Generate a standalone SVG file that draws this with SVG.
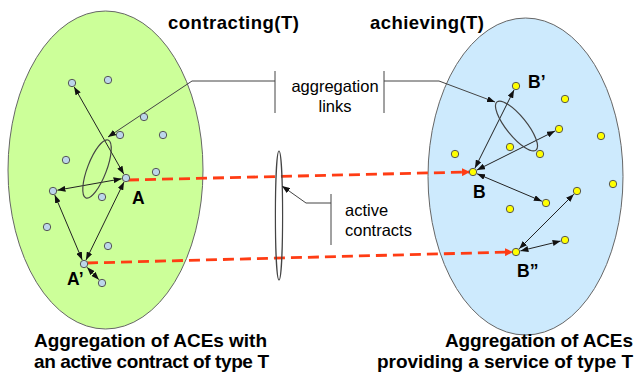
<svg xmlns="http://www.w3.org/2000/svg" width="636" height="381" viewBox="0 0 636 381">
  <style>
    .title { font-family: "Liberation Sans", Arial, sans-serif; font-weight: bold; font-size: 18.5px; fill: #000; }
    .caption { font-family: "Liberation Sans", Arial, sans-serif; font-weight: bold; font-size: 19px; fill: #000; }
    .label { font-family: "Liberation Sans", Arial, sans-serif; font-size: 16.5px; fill: #000; }
    .name { font-family: "Liberation Sans", Arial, sans-serif; font-weight: bold; font-size: 17.5px; fill: #000; }
    .set { stroke: #666; stroke-width: 1; }
    .ace-c { fill: #bcd6ea; stroke: #555; stroke-width: 1; }
    .ace-s { fill: #ffff00; stroke: #555; stroke-width: 1; }
    .link { fill: none; stroke: #222; stroke-width: 1; marker-start: url(#head); marker-end: url(#head); }
    .pointer { fill: none; stroke: #444; stroke-width: 1; marker-end: url(#head); }
    .bracket { fill: none; stroke: #444; stroke-width: 1; }
    .group { fill: none; stroke: #444; stroke-width: 1.2; }
    .contract { fill: none; stroke: #ff3c14; stroke-width: 2.8; stroke-dasharray: 11 6; marker-end: url(#redhead); }
  </style>
  <defs>
    <marker id="head" viewBox="0 0 8 6" refX="8" refY="3" markerWidth="8" markerHeight="6" markerUnits="userSpaceOnUse" orient="auto-start-reverse">
      <path d="M0,0 L8,3 L0,6 z" fill="#111"/>
    </marker>
    <marker id="redhead" viewBox="0 0 8 8" refX="7" refY="4" markerWidth="8" markerHeight="8" markerUnits="userSpaceOnUse" orient="auto">
      <path d="M0,0 L8,4 L0,8 z" fill="#ff3c14"/>
    </marker>
  </defs>

  <rect width="636" height="381" fill="#fff"/>

  <!-- the two populations -->
  <g id="contracting-set">
    <ellipse class="set" cx="105.5" cy="170" rx="97.5" ry="159" fill="#ccff99"/>
    <text class="title" x="168" y="29" textLength="131">contracting(T)</text>
    <text class="caption" x="34" y="347" textLength="233">Aggregation of ACEs with</text>
    <text class="caption" x="34" y="368" textLength="235">an active contract of type T</text>
  </g>
  <g id="achieving-set">
    <ellipse class="set" cx="525.5" cy="176.5" rx="97.5" ry="158.5" fill="#cdeafd"/>
    <text class="title" x="370" y="29" textLength="114">achieving(T)</text>
    <text class="caption" x="445" y="347" textLength="188">Aggregation of ACEs</text>
    <text class="caption" x="377" y="368" textLength="256">providing a service of type T</text>
  </g>

  <!-- connectors -->
  <g id="connectors">
    <!-- aggregation links inside contracting(T) -->
    <line class="link" x1="74.2" y1="86.9" x2="123.8" y2="174.1"/>
    <line class="link" x1="57.4" y1="190.2" x2="121.6" y2="178.8"/>
    <line class="link" x1="54.8" y1="195.1" x2="82.2" y2="259.9"/>
    <line class="link" x1="124" y1="182" x2="86" y2="260"/>
    <line class="link" x1="87.1" y1="267.3" x2="98.9" y2="279.7"/>
    <!-- aggregation links inside achieving(T) -->
    <line class="link" x1="475" y1="168" x2="514" y2="90"/>
    <line class="link" x1="477" y1="170" x2="555" y2="131"/>
    <line class="link" x1="477.1" y1="173.8" x2="541.9" y2="201.2"/>
    <line class="link" x1="519.2" y1="248.8" x2="573.8" y2="194.2"/>
    <line class="link" x1="520.4" y1="250.9" x2="560.6" y2="241.1"/>
    <!-- active contracts -->
    <line class="contract" x1="128" y1="180" x2="469" y2="172"/>
    <line class="contract" x1="87" y1="263" x2="512" y2="252"/>
  </g>

  <!-- link groupings -->
  <g id="link-group-left">
    <ellipse class="group" cx="97" cy="169" rx="31" ry="9.5" transform="rotate(-69 97 169)"/>
  </g>
  <g id="link-group-right">
    <ellipse class="group" cx="516.5" cy="126" rx="31" ry="10" transform="rotate(51 516.5 126)"/>
  </g>
  <g id="contract-group">
    <ellipse class="group" cx="279" cy="215.5" rx="3.6" ry="64.5"/>
  </g>

  <!-- callouts -->
  <g id="aggregation-links-label">
    <polyline class="pointer" points="275,81 192,81 108,137"/>
    <polyline class="pointer" points="384,81 439,81 495,102"/>
    <line class="bracket" x1="275" y1="71" x2="275" y2="113"/>
    <line class="bracket" x1="384" y1="71" x2="384" y2="113"/>
    <text class="label" x="335" y="92" text-anchor="middle">aggregation</text>
    <text class="label" x="335" y="112" text-anchor="middle">links</text>
  </g>
  <g id="active-contracts-label">
    <polyline class="pointer" points="331,203 306,203 282,186"/>
    <line class="bracket" x1="331" y1="194" x2="331" y2="245"/>
    <text class="label" x="345" y="216">active</text>
    <text class="label" x="345" y="236">contracts</text>
  </g>

  <!-- ACEs holding a contract -->
  <g id="aces-contracting">
    <circle class="ace-c" cx="108" cy="80" r="3.7"/>
    <circle class="ace-c" cx="144" cy="117" r="3.7"/>
    <circle class="ace-c" cx="72" cy="83" r="3.7"/>
    <circle class="ace-c" cx="120" cy="135" r="3.7"/>
    <circle class="ace-c" cx="163" cy="135" r="3.7"/>
    <circle class="ace-c" cx="66" cy="160" r="3.7"/>
    <circle class="ace-c" cx="156" cy="172" r="3.7"/>
    <circle class="ace-c" cx="53" cy="191" r="3.7"/>
    <circle class="ace-c" cx="102" cy="197" r="3.7"/>
    <circle class="ace-c" cx="47" cy="227" r="3.7"/>
    <circle class="ace-c" cx="108" cy="246" r="3.7"/>
    <circle class="ace-c" cx="102" cy="283" r="3.7"/>
  </g>
  <g id="node-A">
    <circle class="ace-c" cx="126" cy="178" r="3.7"/>
    <text class="name" x="132" y="204">A</text>
  </g>
  <g id="node-A2">
    <circle class="ace-c" cx="84" cy="264" r="3.7"/>
    <text class="name" x="67" y="285">A’</text>
  </g>

  <!-- ACEs providing the service -->
  <g id="aces-achieving">
    <circle class="ace-s" cx="565" cy="99" r="3.7"/>
    <circle class="ace-s" cx="559" cy="129" r="3.7"/>
    <circle class="ace-s" cx="601" cy="136" r="3.7"/>
    <circle class="ace-s" cx="455" cy="154" r="3.7"/>
    <circle class="ace-s" cx="510" cy="147" r="3.7"/>
    <circle class="ace-s" cx="540" cy="154" r="3.7"/>
    <circle class="ace-s" cx="613" cy="184" r="3.7"/>
    <circle class="ace-s" cx="577" cy="191" r="3.7"/>
    <circle class="ace-s" cx="546" cy="203" r="3.7"/>
    <circle class="ace-s" cx="510" cy="209" r="3.7"/>
    <circle class="ace-s" cx="565" cy="240" r="3.7"/>
  </g>
  <g id="node-B">
    <circle class="ace-s" cx="473" cy="172" r="3.7"/>
    <text class="name" x="473" y="198">B</text>
  </g>
  <g id="node-B1">
    <circle class="ace-s" cx="516" cy="86" r="3.7"/>
    <text class="name" x="528" y="88">B’</text>
  </g>
  <g id="node-B2">
    <circle class="ace-s" cx="516" cy="252" r="3.7"/>
    <text class="name" x="517" y="277">B”</text>
  </g>
</svg>
